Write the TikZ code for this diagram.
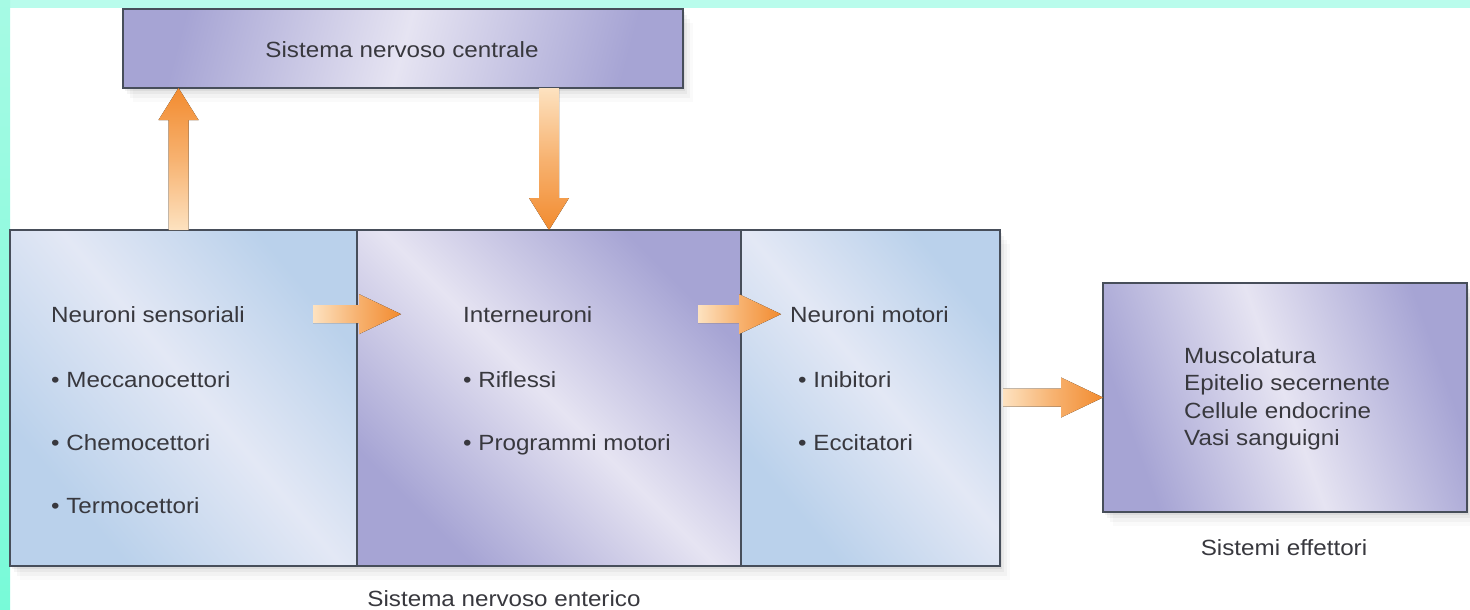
\documentclass[tikz,border=0pt]{standalone}
\usepackage{fontspec}
\setmainfont{Liberation Sans}[FakeStretch=1.1]
\usetikzlibrary{calc}
\definecolor{bgtop}{HTML}{B9FCEC}
\definecolor{bgleftT}{HTML}{A6FAE4}
\definecolor{bgleftB}{HTML}{78FAD8}
\definecolor{pD}{HTML}{A6A4D4}
\definecolor{pL}{HTML}{E6E4F2}
\definecolor{bD}{HTML}{BAD1EB}
\definecolor{bL}{HTML}{E3E8F5}
\definecolor{edge}{HTML}{474E5A}
\definecolor{txt}{HTML}{38383E}
\definecolor{arrL}{HTML}{FDE2C0}
\definecolor{arrD}{HTML}{F28B2F}
\pgfdeclarehorizontalshading{purpband}{100bp}{color(0bp)=(pD); color(26bp)=(pD); color(50bp)=(pL); color(74bp)=(pD); color(100bp)=(pD)}
\pgfdeclarehorizontalshading{blueband}{100bp}{color(0bp)=(bD); color(28bp)=(bD); color(52bp)=(bL); color(74bp)=(bD); color(100bp)=(bD)}
\newcommand\fatH[2]{\fill[harrow] ($(#1)+(0,-9)$) -- ($(#2)+(-42,-9)$) -- ($(#2)+(-42,-20)$) -- (#2) -- ($(#2)+(-42,20)$) -- ($(#2)+(-42,9)$) -- ($(#1)+(0,9)$) -- cycle;}
\newcommand\fatUp[2]{\fill[uparrow] ($(#1)+(-10,0)$) -- ($(#2)+(-10,32)$) -- ($(#2)+(-20,32)$) -- (#2) -- ($(#2)+(20,32)$) -- ($(#2)+(10,32)$) -- ($(#1)+(10,0)$) -- cycle;}
\newcommand\fatDown[2]{\fill[downarrow] ($(#1)+(-10,0)$) -- ($(#2)+(-10,-32)$) -- ($(#2)+(-20,-32)$) -- (#2) -- ($(#2)+(20,-32)$) -- ($(#2)+(10,-32)$) -- ($(#1)+(10,0)$) -- cycle;}
\begin{document}
\begin{tikzpicture}[x=1pt,y=-1pt,
  softshadow/.style={
    preaction={fill=black,opacity=0.05,transform canvas={xshift=2pt,yshift=-3pt}},
    preaction={fill=black,opacity=0.04,transform canvas={xshift=4pt,yshift=-6pt}},
    preaction={fill=black,opacity=0.03,transform canvas={xshift=7pt,yshift=-10pt}},
    preaction={fill=black,opacity=0.02,transform canvas={xshift=10pt,yshift=-14pt}}},
  box/.style={draw=edge,line width=2.2pt,inner sep=0pt,outer sep=0pt,softshadow},
  purpbox/.style={box,shading=purpband},
  bluebox/.style={box,shading=blueband},
  lbl/.style={font=\fontsize{22}{26}\selectfont,text=txt,inner sep=0pt,anchor=base west},
  clbl/.style={lbl,anchor=base},
  harrow/.style={left color=arrL,right color=arrD,middle color=arrD!55!arrL},
  uparrow/.style={bottom color=arrL,top color=arrD,middle color=arrD!55!arrL},
  downarrow/.style={top color=arrL,bottom color=arrD,middle color=arrD!55!arrL}]
\useasboundingbox (0,0) rectangle (1470,610);
\fill[white] (0,0) rectangle (1470,610);
\fill[bgtop] (0,0) rectangle (1470,8);
\shade[top color=bgleftT,bottom color=bgleftB] (0,0) rectangle (10,610);
% boxes
\node[purpbox,shading angle=-15,minimum width=560pt,minimum height=79pt] (cns) at (403,48.5) {};
\node[bluebox,shading angle=40,minimum width=347pt,minimum height=336pt] (sens) at (183.5,398) {};
\node[purpbox,shading angle=45,minimum width=384pt,minimum height=336pt] (inter) at (549,398) {};
\node[bluebox,shading angle=40,minimum width=259pt,minimum height=336pt] (mot) at (870.5,398) {};
\node[purpbox,shading angle=20,minimum width=364pt,minimum height=229pt] (eff) at (1285,397.5) {};
% texts
\node[clbl] (cT) at (402,58) {Sistema nervoso centrale};
\node[lbl] (sT) at (51,322) {Neuroni sensoriali};
\node[lbl] (s1) at (51,387) {• Meccanocettori};
\node[lbl] (s2) at (51,450) {• Chemocettori};
\node[lbl] (s3) at (51,513) {• Termocettori};
\node[lbl] (iT) at (463,322) {Interneuroni};
\node[lbl] (i1) at (463,387) {• Riflessi};
\node[lbl] (i2) at (463,450) {• Programmi motori};
\node[lbl] (mT) at (790,322) {Neuroni motori};
\node[lbl] (m1) at (798,387) {• Inibitori};
\node[lbl] (m2) at (798,450) {• Eccitatori};
\node[lbl] (e1) at (1184,363) {Muscolatura};
\node[lbl] (e2) at (1184,390) {Epitelio secernente};
\node[lbl] (e3) at (1184,418) {Cellule endocrine};
\node[lbl] (e4) at (1184,445) {Vasi sanguigni};
\node[clbl] (effL) at (1284,555) {Sistemi effettori};
\node[clbl] (ensL) at (504,606) {Sistema nervoso enterico};
% connector coordinates
\coordinate (u0) at ($(sens.north)+(-5,0)$);
\coordinate (u1) at (u0 |- cns.south);
\coordinate (d0) at (inter.north |- cns.south);
\coordinate (d1) at (inter.north);
\coordinate (h1a) at ($(sens.east |- sT.east)+(-44,0)$);
\coordinate (h1b) at ($(inter.west |- sT.east)+(44,0)$);
\coordinate (h2a) at ($(mot.west |- iT.east)+(-43,0)$);
\coordinate (h2b) at ($(mot.west |- iT.east)+(40,0)$);
\coordinate (h3a) at ($(mot.east |- eff.west)+(3,0)$);
\coordinate (h3b) at (eff.west);
% arrows
\fatUp{u0}{u1}
\fatDown{d0}{d1}
\fatH{h1a}{h1b}
\fatH{h2a}{h2b}
\fatH{h3a}{h3b}
\end{tikzpicture}
\end{document}
